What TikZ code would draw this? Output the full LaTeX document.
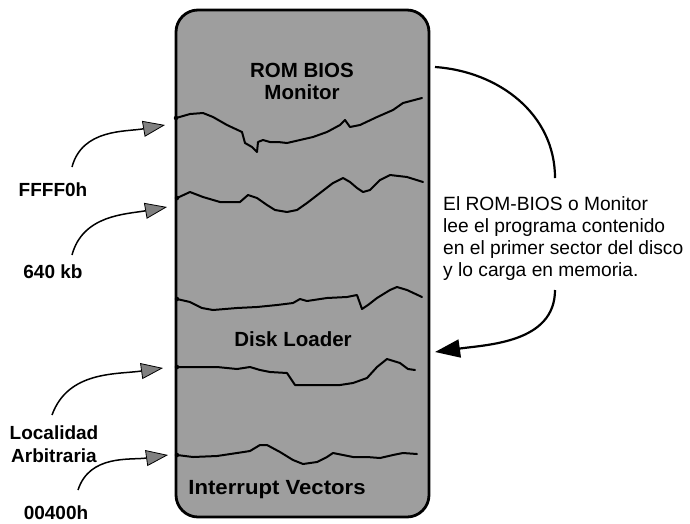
\documentclass[tikz,border=0pt]{standalone}
\usepackage{fontspec}
\setmainfont{Liberation Sans}
\usetikzlibrary{arrows.meta}
\begin{document}
\begin{tikzpicture}[x=1pt,y=-1pt,
  memory/.style={draw, line width=2.8pt, fill=black!38, rounded corners=22pt,
                 minimum width=253pt, minimum height=507pt, inner sep=0},
  lbl/.style={font=\fontsize{19}{23}\selectfont\bfseries, inner sep=0, align=center},
  inlbl/.style={font=\fontsize{20.5}{22}\selectfont\bfseries, inner sep=0, align=center},
  note/.style={font=\fontsize{19.2}{22}\selectfont, inner sep=0, align=left},
  wave/.style={line width=2pt, line join=round, line cap=round},
  startdot/.style={fill=black, inner sep=0, minimum size=4.5pt, circle},
  ptr/.style={line width=1.5pt,
              -{Triangle[length=22pt,width=16pt,fill=black!50,line width=0.8pt]}},
  bigptr/.style={line width=2.2pt, -{Triangle[length=25pt,width=18pt]}},
  link/.style={line width=2.2pt}]
\useasboundingbox (0,0) rectangle (690,523);

% memory column
\node[memory] (mem) at (302.5,263.5) {};

% region boundaries
\coordinate (w1) at (176,118);
\coordinate (w2) at (177,198);
\coordinate (w3) at (177,299);
\coordinate (w4) at (177,367);
\coordinate (w5) at (177,455);

\draw[wave] (w1) -- (190,114) -- (203,113) -- (213,117) -- (227,125) -- (242,132)
  -- (245,143) -- (252,147) -- (257,152) -- (258,142) -- (263,140) -- (270,142)
  -- (278,142) -- (287,143) -- (300,140) -- (313,137) -- (327,132) -- (340,125)
  -- (345,120) -- (350,127) -- (360,125) -- (377,117) -- (393,110) -- (403,103)
  -- (422,98);
\draw[wave] (w2) -- (190,192) -- (203,197) -- (220,202) -- (240,202) -- (248,195)
  -- (257,198) -- (267,205) -- (275,210) -- (287,212) -- (297,210) -- (307,203)
  -- (320,193) -- (333,183) -- (343,178) -- (350,182) -- (357,188) -- (363,192)
  -- (370,190) -- (380,180) -- (390,175) -- (407,177) -- (423,182);
\draw[wave] (w3) -- (190,302) -- (202,308) -- (213,310) -- (237,308) -- (257,307)
  -- (277,305) -- (293,303) -- (300,299) -- (307,301) -- (327,298) -- (347,297)
  -- (357,295) -- (362,309) -- (368,305) -- (377,298) -- (390,290) -- (397,287)
  -- (407,290) -- (422,297);
\draw[wave] (w4) -- (197,367) -- (217,367) -- (237,369) -- (250,367) -- (260,370)
  -- (270,372) -- (287,373) -- (295,385) -- (317,385) -- (340,385) -- (353,383)
  -- (367,378) -- (377,367) -- (387,359) -- (400,363) -- (408,369) -- (415,370);
\draw[wave] (w5) -- (193,457) -- (217,456) -- (237,453) -- (250,451) -- (260,445)
  -- (267,445) -- (280,452) -- (293,460) -- (303,464) -- (317,462) -- (327,457)
  -- (333,453) -- (343,455) -- (353,457) -- (367,457) -- (380,458) -- (393,455)
  -- (403,453) -- (417,454);
\foreach \w in {w1,w2,w3,w4,w5} \node[startdot] at (\w) {};

% region names
\node[inlbl] (rom) at (302,81) {ROM BIOS\\Monitor};
\node[inlbl] (disk) at (293,339) {Disk Loader};
\node[inlbl, xscale=1.08] (ivt) at (277,490) {Interrupt Vectors};

% address labels and their pointers
\node[lbl] (f1) at (53,190) {FFFF0h};
\node[lbl] (f2) at (53,272) {640 kb};
\node[lbl] (f3) at (54,444) {Localidad\\Arbitraria};
\node[lbl] (f4) at (56,513) {00400h};

\coordinate (t1) at (72,167);  \coordinate (a1) at (165,125);
\coordinate (t2) at (72,255);  \coordinate (a2) at (167,207);
\coordinate (t3) at (52,415);  \coordinate (a3) at (163,368);
\coordinate (t4) at (78,490);  \coordinate (a4) at (168,455);
\draw[ptr] (t1) to[out=75,in=190] (a1);
\draw[ptr] (t2) to[out=75,in=190] (a2);
\draw[ptr] (t3) to[out=70,in=188] (a3);
\draw[ptr] (t4) to[out=72,in=188] (a4);

% explanation on the right
\node[note, anchor=west] (txt) at (443,239)
  {El ROM-BIOS o Monitor\\lee el programa contenido\\en el primer sector del disco\\y lo carga en memoria.};
\coordinate (r0) at (435,67);
\coordinate (r1) at (555,178);
\coordinate (r2) at (555,290);
\coordinate (r3) at (435,352);
\draw[link] (r0) to[out=-4,in=90] (r1);
\draw[bigptr] (r2) to[out=-90,in=8] (r3);
\end{tikzpicture}
\end{document}
